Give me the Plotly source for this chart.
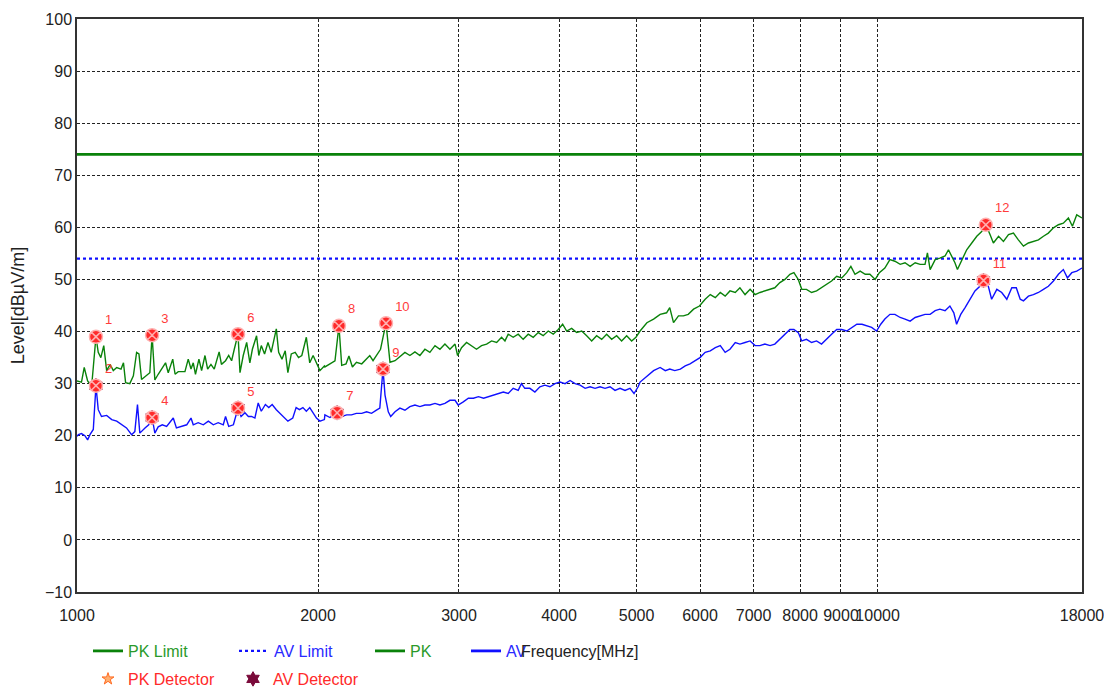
import plotly.graph_objects as go

# ---------------- data ----------------
pk_freq = [1000, 1013, 1021, 1031, 1043, 1056, 1063, 1071, 1080, 1089, 1100, 1110, 1121, 1135, 1143, 1150,
           1164, 1176, 1187, 1195, 1204, 1222, 1233, 1241, 1251, 1263, 1278, 1290, 1300, 1317, 1326, 1338,
           1364, 1377, 1388, 1397, 1406, 1420, 1431, 1445, 1456, 1470, 1484, 1497, 1505, 1515, 1533, 1547,
           1560, 1572, 1589, 1598, 1613, 1629, 1644, 1656, 1676, 1687, 1699, 1715, 1732, 1748, 1760, 1774,
           1786, 1803, 1820, 1834, 1852, 1873, 1891, 1909, 1934, 1953, 1972, 1991, 2011, 2037,
           2040, 2070, 2100, 2124, 2141, 2168, 2186, 2208, 2234, 2268, 2300, 2321, 2343, 2371, 2394, 2411,
           2432, 2448, 2460, 2496, 2531, 2568, 2605, 2643, 2681, 2720, 2759, 2800, 2840, 2881, 2923, 2966,
           2988, 3022, 3066, 3110, 3155, 3201, 3248, 3295, 3343, 3391, 3424, 3456, 3506, 3557, 3608, 3661,
           3714, 3768, 3822, 3878, 3934, 3991, 4042, 4089, 4148, 4208, 4269, 4331, 4394, 4457, 4522, 4587,
           4654, 4721, 4789, 4859, 4929, 4990,
           5050, 5150, 5250, 5350, 5450, 5500, 5560, 5640, 5720, 5800, 5890, 5990, 6090, 6180, 6270, 6360,
           6450, 6540, 6640, 6730, 6830, 6930, 7030, 7130, 7230, 7340, 7440, 7550, 7660, 7770, 7860, 7960,
           8040, 8150, 8270, 8390, 8510, 8640, 8760, 8890, 9020, 9150, 9260, 9370, 9510, 9650, 9780, 9930,
           10050, 10210, 10360, 10510, 10670, 10820, 10980, 11140, 11300, 11460, 11540, 11630, 11800, 11960,
           12140, 12260, 12370, 12490, 12580, 12740, 12920, 13110, 13300, 13490, 13650, 13820, 13950, 14160,
           14360, 14570, 14780, 14990, 15210, 15430, 15650, 15880, 16110, 16340, 16580, 16820, 17060, 17310,
           17510, 17730, 18000]
pk_level = [30.5, 30.3, 33.1, 30.5, 29.5, 39.0, 36.0, 35.0, 37.3, 32.5, 33.7, 32.5, 33.1, 32.8, 34.0, 30.2,
            30.0, 31.5, 36.0, 35.7, 30.8, 31.5, 32.1, 39.3, 30.7, 31.8, 33.1, 34.0, 32.1, 34.7, 31.8, 32.3,
            32.3, 34.7, 32.8, 34.0, 31.8, 34.7, 32.5, 35.4, 32.8, 33.7, 32.8, 35.0, 36.1, 33.7, 34.4, 35.4,
            34.4, 36.6, 39.5, 32.1, 35.4, 37.9, 34.0, 36.6, 39.2, 35.4, 37.3, 35.7, 37.9, 36.0, 38.3, 40.5,
            36.0, 34.7, 36.3, 32.1, 35.7, 36.0, 35.0, 35.4, 38.9, 34.0, 35.4, 34.0, 32.5, 33.4,
            33.2, 33.8, 34.4, 41.1, 33.5, 33.8, 35.3, 33.2, 34.1, 33.8, 34.7, 35.4, 34.4, 35.7, 36.6, 38.9,
            41.6, 37.3, 34.1, 34.4, 35.1, 36.0, 35.4, 36.1, 35.4, 36.6, 36.0, 37.3, 36.6, 37.6, 36.6, 37.6,
            35.4, 36.9, 37.9, 37.3, 36.6, 37.3, 37.6, 38.2, 37.9, 38.9, 38.2, 39.5, 38.9, 39.5, 38.5, 39.5,
            38.9, 39.8, 39.2, 40.1, 39.5, 40.4, 41.4, 40.1, 40.6, 39.8, 40.1, 39.2, 38.2, 39.2, 38.5, 39.5,
            38.5, 39.2, 38.2, 39.2, 38.2, 38.9,
            40.1, 41.7, 42.4, 43.3, 43.6, 44.6, 41.7, 43.0, 43.0, 43.3, 44.3, 44.9, 46.2, 47.1, 46.5, 47.5,
            46.8, 47.8, 47.5, 48.4, 47.1, 48.1, 47.1, 47.5, 47.8, 48.1, 48.4, 49.4, 50.0, 51.0, 51.3, 50.0,
            48.1, 48.1, 47.5, 47.8, 48.4, 49.0, 49.7, 50.6, 50.3, 51.3, 52.5, 51.0, 51.6, 51.0, 51.0, 50.0,
            51.3, 52.2, 53.8, 53.5, 52.9, 53.2, 52.5, 53.2, 52.9, 52.9, 55.1, 51.9, 53.8, 54.1,
            54.5, 55.7, 54.5, 53.2, 51.9, 53.8, 55.7, 57.0, 58.3, 59.2, 60.5, 58.6, 57.0, 58.3,
            57.3, 58.6, 58.9, 57.6, 56.4, 57.0, 57.3, 57.6, 58.3, 58.9, 59.9, 60.5, 60.8, 61.8,
            60.2, 62.4, 61.8]

av_freq = [1000, 1004, 1013, 1023, 1031, 1038, 1048, 1056, 1063, 1073, 1089, 1105, 1121, 1137, 1153, 1170,
           1181, 1190, 1198, 1216, 1229, 1241, 1251, 1263, 1278, 1294, 1306, 1319, 1331, 1351, 1371, 1388,
           1397, 1417, 1438, 1459, 1480, 1501, 1523, 1533, 1547, 1568, 1589, 1603, 1621, 1637, 1652, 1668,
           1684, 1699, 1719, 1736, 1753, 1774, 1791, 1817, 1834, 1860, 1878, 1896, 1915, 1934, 1953, 1972,
           1991, 2011, 2037,
           2040, 2070, 2113, 2141, 2172, 2202, 2233, 2268, 2300, 2333, 2366, 2389, 2411, 2425, 2448, 2465,
           2496, 2531, 2568, 2605, 2643, 2681, 2720, 2759, 2800, 2840, 2881, 2923, 2966, 2993, 3037, 3082,
           3127, 3173, 3220, 3267, 3315, 3359, 3408, 3456, 3506, 3557, 3590, 3625, 3678, 3732, 3786, 3841,
           3897, 3954, 4011, 4070, 4129, 4189, 4250, 4312, 4374, 4437, 4501, 4566, 4632, 4699, 4767, 4836,
           4906, 4963, 5022,
           5050, 5150, 5250, 5350, 5430, 5500, 5580, 5670, 5750, 5830, 5910, 6000, 6090, 6180, 6270, 6360,
           6450, 6540, 6640, 6730, 6830, 6930, 7030, 7130, 7230, 7340, 7440, 7550, 7660, 7770, 7860, 7960,
           8040, 8150, 8270, 8390, 8510, 8640, 8760, 8890, 9020, 9150, 9280, 9420, 9560, 9690, 9830, 9970,
           10090, 10210, 10360, 10510, 10670, 10820, 10980, 11140, 11300, 11460, 11630, 11800, 11960, 12140,
           12310, 12450, 12550, 12700, 12860, 13040, 13230, 13420, 13560, 13750, 13880, 14090, 14290, 14500,
           14710, 14900, 15070, 15210, 15430, 15650, 15880, 16110, 16340, 16580, 16820, 17060, 17260, 17480,
           17730, 18000]
av_level = [19.9, 20.2, 20.4, 20.0, 19.2, 20.2, 21.2, 29.6, 25.0, 23.7, 23.9, 23.1, 22.8, 22.1, 21.5, 20.2,
            20.8, 26.0, 20.5, 21.5, 22.1, 23.5, 20.5, 21.7, 22.1, 21.8, 22.5, 23.4, 21.5, 21.8, 22.1, 23.4,
            22.1, 22.5, 22.1, 22.8, 22.1, 22.5, 22.1, 23.7, 21.8, 22.1, 25.3, 23.7, 24.4, 23.7, 23.7, 23.4,
            26.3, 24.7, 26.0, 25.4, 26.0, 25.0, 24.4, 23.4, 22.8, 23.4, 25.4, 25.0, 25.4, 24.7, 25.4, 24.4,
            23.4, 22.8, 23.1,
            24.0, 23.5, 24.4, 23.7, 24.0, 24.0, 24.3, 24.3, 24.6, 24.3, 24.9, 25.3, 32.8, 27.8, 24.6, 23.7,
            24.6, 25.3, 24.9, 25.6, 25.9, 25.6, 25.9, 25.9, 26.2, 25.9, 26.2, 26.8, 26.8, 25.9, 26.5, 27.2,
            27.2, 27.5, 27.2, 27.5, 27.8, 28.1, 28.4, 28.1, 29.1, 28.7, 30.0, 29.1, 29.1, 28.4, 29.4, 29.7,
            29.4, 30.0, 30.3, 30.0, 30.6, 30.0, 29.7, 29.1, 29.4, 29.1, 29.4, 29.1, 29.4, 28.7, 29.1, 28.7,
            29.1, 28.1, 29.4,
            30.3, 31.5, 32.5, 33.1, 32.5, 32.8, 32.5, 32.8, 33.4, 33.8, 34.4, 35.0, 36.0, 36.3, 36.9, 37.3,
            36.0, 36.6, 37.9, 37.6, 37.9, 38.2, 37.3, 37.3, 37.6, 37.3, 37.6, 38.5, 39.5, 40.4, 40.4, 39.8,
            38.2, 38.5, 37.9, 38.2, 37.6, 38.5, 39.5, 40.4, 40.4, 40.1, 40.8, 41.4, 41.4, 41.1, 40.8, 40.1,
            41.4, 42.4, 43.3, 43.3, 42.7, 42.4, 42.0, 42.7, 43.0, 43.3, 43.3, 44.0, 44.3, 44.0,
            44.9, 43.6, 41.4, 43.3, 44.6, 46.2, 47.8, 48.7, 49.8, 48.7, 46.2, 48.1, 47.5, 46.2,
            48.4, 48.4, 46.2, 45.9, 46.8, 47.1, 47.5, 48.1, 48.7, 49.7, 51.0, 51.9, 50.3, 51.3,
            51.6, 52.2]

limit_freq = [1000, 18000]
pk_limit = [74, 74]
av_limit = [54, 54]

pk_mark_freq = [1056, 1241, 1589, 2124, 2432, 13650]
pk_mark_level = [39.0, 39.3, 39.5, 41.1, 41.6, 60.5]
pk_mark_no = ["1", "3", "6", "8", "10", "12"]
av_mark_freq = [1056, 1241, 1589, 2113, 2411, 13560]
av_mark_level = [29.6, 23.5, 25.3, 24.4, 32.8, 49.8]
av_mark_no = ["2", "4", "5", "7", "9", "11"]

x_ticks = [1000, 2000, 3000, 4000, 5000, 6000, 7000, 8000, 9000, 10000, 18000]
x_tick_text = [str(v) for v in x_ticks]
y_ticks = list(range(-10, 101, 10))

# ---------------- figure ----------------
FONT = "Liberation Sans, Arial, sans-serif"
GREEN = "#0a820a"
BLUE = "#1010ff"
RED = "#ff2a2a"
OFF = 8                      # page body margin
W, H = 1112 - OFF, 689 - OFF

fig = go.Figure()

fig.add_trace(go.Scatter(x=limit_freq, y=pk_limit, mode="lines", name="PK Limit",
                         line=dict(color=GREEN, width=2.8), legend="legend"))
fig.add_trace(go.Scatter(x=limit_freq, y=av_limit, mode="lines", name="AV Limit",
                         line=dict(color=BLUE, width=2.4, dash="dot"), legend="legend2"))
fig.add_trace(go.Scatter(x=pk_freq, y=pk_level, mode="lines", name="PK",
                         line=dict(color=GREEN, width=1.4), showlegend=False))
fig.add_trace(go.Scatter(x=av_freq, y=av_level, mode="lines", name="AV",
                         line=dict(color=BLUE, width=1.4), showlegend=False))
# legend-only entries (thick sample lines, as in the reference legend)
fig.add_trace(go.Scatter(x=[None], y=[None], mode="lines", name="PK",
                         line=dict(color=GREEN, width=2.8), legend="legend3"))
fig.add_trace(go.Scatter(x=[None], y=[None], mode="lines", name="AV",
                         line=dict(color=BLUE, width=2.8), legend="legend4"))
fig.add_trace(go.Scatter(x=pk_mark_freq, y=pk_mark_level, mode="markers", name="PK Detector",
                         marker=dict(symbol="star", size=9, color="#ffb070",
                                     line=dict(color="#ff6a20", width=1)), legend="legend5"))
fig.add_trace(go.Scatter(x=av_mark_freq, y=av_mark_level, mode="markers", name="AV Detector",
                         marker=dict(symbol="hexagram", size=11, color="#7a0a3a",
                                     line=dict(color="#7a0a3a", width=1)), legend="legend6"))

# red numbered markers
fig.add_trace(go.Scatter(x=pk_mark_freq + av_mark_freq, y=pk_mark_level + av_mark_level,
                         mode="markers+text", text=pk_mark_no + av_mark_no,
                         textposition="top right",
                         textfont=dict(family=FONT, size=13, color="#ff3b3b"),
                         marker=dict(symbol="circle-x", size=13, color=RED,
                                     line=dict(color="#ffb0b0", width=1.5)),
                         showlegend=False, hoverinfo="skip"))

# plot area in screen pixels
PX0, PX1, PY0, PY1 = 77, 1082, 19, 592


def leg(px, py, color):
    return dict(x=(px - OFF) / W, y=1 - (py - OFF) / H, xref="container", yref="container",
                xanchor="left", yanchor="middle", orientation="h",
                bgcolor="rgba(0,0,0,0)", borderwidth=0,
                font=dict(family=FONT, size=16, color=color), itemwidth=30)


fig.update_layout(
    width=W, height=H,
    margin=dict(l=PX0 - OFF, r=1112 - PX1, t=PY0 - OFF, b=689 - PY1, autoexpand=False),
    paper_bgcolor="white", plot_bgcolor="white",
    showlegend=True,
    legend=leg(88, 651, "#2a9a2a"),
    legend2=leg(234, 651, "#2a2aff"),
    legend3=leg(370, 651, "#2a9a2a"),
    legend4=leg(466, 651, "#2a2aff"),
    legend5=leg(88, 679, "#ff2a2a"),
    legend6=leg(233, 679, "#ff2a2a"),
    xaxis=dict(type="log", range=[3, 4.255272505], tickvals=x_ticks, ticktext=x_tick_text,
               tickangle=0,
               showgrid=True, gridcolor="#222", gridwidth=1, griddash="3px,2px",
               showline=True, linecolor="#333", linewidth=1.5, mirror=True,
               ticks="", ticklabelstandoff=8, zeroline=False, automargin=False,
               tickfont=dict(family=FONT, size=16, color="#222")),
    yaxis=dict(range=[-10, 100], tickvals=y_ticks,
               showgrid=True, gridcolor="#222", gridwidth=1, griddash="3px,2px",
               showline=True, linecolor="#333", linewidth=1.5, mirror=True,
               ticks="", ticklabelstandoff=0, zeroline=False, automargin=False,
               tickfont=dict(family=FONT, size=16, color="#222"),
               title=dict(text="Level[dBµV/m]", standoff=22,
                          font=dict(family=FONT, size=18, color="#222"))),
    annotations=[dict(text="Frequency[MHz]", xref="paper", yref="paper",
                      x=0.5, y=(PY1 - 651) / (PY1 - PY0), xanchor="center", yanchor="middle",
                      showarrow=False, font=dict(family=FONT, size=16, color="#222"))],
)

fig.write_html("out.html")
